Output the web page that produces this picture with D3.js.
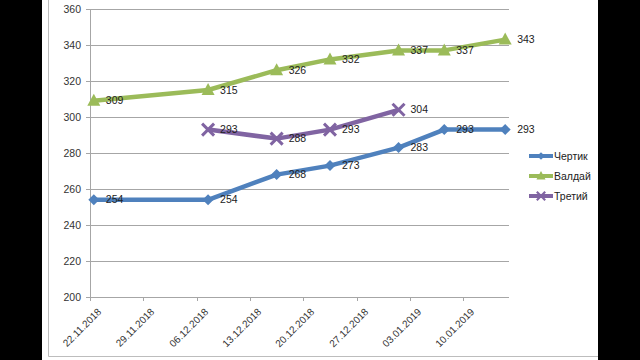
<!DOCTYPE html>
<html>
<head>
<meta charset="utf-8">
<script src="https://cdn.jsdelivr.net/npm/d3@7"></script>
<style>
  body { margin: 0; background: #000; }
  svg { display: block; font-family: "Liberation Sans", Arial, sans-serif; }
</style>
</head>
<body>
<svg id="chart" width="640" height="360"></svg>
<script>
// data
const seriesNames = ["Чертик", "Валдай", "Третий"];
const seriesColors = ["#4F81BD", "#9BBB59", "#8064A2"];
const dates = ["22.11.2018", "07.12.2018", "16.12.2018", "23.12.2018", "01.01.2019", "07.01.2019", "15.01.2019"];
const chertik = [254, 254, 268, 273, 283, 293, 293];
const valdai = [309, 315, 326, 332, 337, 337, 343];
const tretiy = [null, 293, 288, 293, 304, null, null];
const tickLabels = ["22.11.2018", "29.11.2018", "06.12.2018", "13.12.2018", "20.12.2018", "27.12.2018", "03.01.2019", "10.01.2019"];
const yTicks = [200, 220, 240, 260, 280, 300, 320, 340, 360];

const parse = d3.timeParse("%d.%m.%Y");
const allSeries = [chertik, valdai, tretiy];

const svg = d3.select("#chart");

// background: black sides, white sheet
svg.append("rect").attr("x", 42).attr("y", 0).attr("width", 556).attr("height", 360).attr("fill", "#fff");
svg.append("path")
    .attr("d", "M48.5,0 V356.5 H598")
    .attr("fill", "none").attr("stroke", "#bdbdbd").attr("stroke-width", 1);

const plotLeft = 90, plotRight = 509, plotTop = 9, plotBottom = 297;

// date axis, points sit in the middle of their day
const x = d3.scaleTime()
    .domain([parse("22.11.2018"), d3.timeDay.offset(parse("15.01.2019"), 1)])
    .range([plotLeft, plotRight]);
const y = d3.scaleLinear().domain([200, 360]).range([plotBottom, plotTop]);
const xp = s => x(d3.timeHour.offset(parse(s), 12));

// gridlines
svg.append("g")
    .selectAll("line")
    .data(yTicks)
    .enter().append("line")
    .attr("x1", plotLeft - 4).attr("x2", plotRight)
    .attr("y1", d => Math.round(y(d)) + 0.5).attr("y2", d => Math.round(y(d)) + 0.5)
    .attr("stroke", "#a6a6a6").attr("stroke-width", 1);

// y labels
svg.append("g")
    .selectAll("text")
    .data(yTicks)
    .enter().append("text")
    .attr("x", 81).attr("y", d => y(d))
    .attr("dy", "0.35em")
    .attr("text-anchor", "end")
    .attr("font-size", "10.5px")
    .attr("fill", "#333")
    .text(d => d);

// axes lines
svg.append("line")
    .attr("x1", plotLeft + 0.5).attr("x2", plotLeft + 0.5).attr("y1", plotTop).attr("y2", plotBottom)
    .attr("stroke", "#a6a6a6");
svg.append("line")
    .attr("x1", plotLeft).attr("x2", plotRight).attr("y1", plotBottom + 0.5).attr("y2", plotBottom + 0.5)
    .attr("stroke", "#a6a6a6");

// x ticks and rotated labels
const xt = svg.append("g")
    .selectAll("g")
    .data(tickLabels)
    .enter().append("g")
    .attr("transform", d => `translate(${Math.round(x(parse(d))) + 0.5},0)`);
xt.append("line")
    .attr("y1", plotBottom).attr("y2", plotBottom + 4)
    .attr("stroke", "#a6a6a6");
xt.append("text")
    .attr("transform", `translate(9,310) rotate(-45)`)
    .attr("text-anchor", "end")
    .attr("dy", "0.35em")
    .attr("font-size", "10px")
    .attr("fill", "#333")
    .text(d => d);

// marker shapes
const markers = [
    "M0,-5.5L5.5,0L0,5.5L-5.5,0Z",
    "M0,-7L6.5,5L-6.5,5Z",
    "M-6,-6L6,6M6,-6L-6,6"
];

function drawMarker(g, i) {
    if (i === 2) {
        g.append("path").attr("d", markers[i])
            .attr("fill", "none").attr("stroke", seriesColors[i]).attr("stroke-width", 3);
    } else {
        g.append("path").attr("d", markers[i]).attr("fill", seriesColors[i]);
    }
}

const line = d3.line()
    .defined(d => d.v != null)
    .x(d => xp(d.date))
    .y(d => y(d.v));

const seriesPts = allSeries.map(vals => dates.map((date, k) => ({ date: date, v: vals[k] })));

seriesPts.forEach((pts, i) => {
    const g = svg.append("g");
    g.append("path")
        .datum(pts)
        .attr("d", line)
        .attr("fill", "none")
        .attr("stroke", seriesColors[i])
        .attr("stroke-width", 4.5)
        .attr("stroke-linejoin", "round");
    pts.filter(d => d.v != null).forEach(d => {
        const m = g.append("g").attr("transform", `translate(${xp(d.date)},${y(d.v)})`);
        drawMarker(m, i);
    });
});

// data labels on top of all lines
seriesPts.forEach(pts => {
    svg.append("g")
        .selectAll("text")
        .data(pts.filter(d => d.v != null))
        .enter().append("text")
        .attr("x", d => xp(d.date) + 12)
        .attr("y", d => y(d.v))
        .attr("dy", "0.35em")
        .attr("font-size", "10.5px")
        .attr("fill", "#222")
        .text(d => d.v);
});

// legend
const lg = svg.append("g")
    .selectAll("g")
    .data(seriesNames)
    .enter().append("g")
    .attr("transform", (d, i) => `translate(529,${156 + i * 20})`);
lg.append("line")
    .attr("x1", 0).attr("x2", 24)
    .attr("stroke", (d, i) => seriesColors[i])
    .attr("stroke-width", 4);
lg.each(function (d, i) {
    const m = d3.select(this).append("g").attr("transform", "translate(12,0) scale(0.7)");
    drawMarker(m, i);
});
lg.append("text")
    .attr("x", 25).attr("dy", "0.35em")
    .attr("font-size", "10.5px")
    .attr("fill", "#222")
    .text(d => d);
</script>
</body>
</html>
